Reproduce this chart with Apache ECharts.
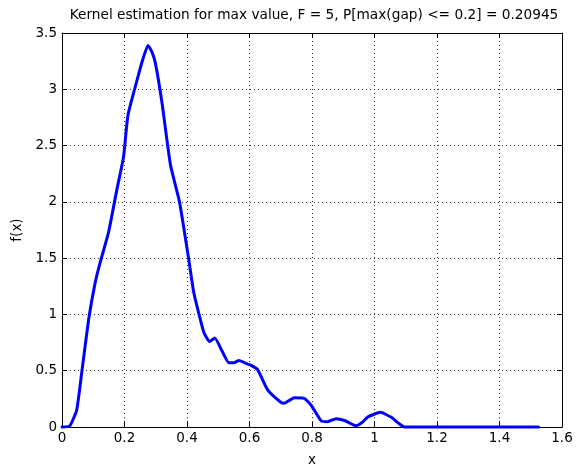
<!DOCTYPE html>
<html>
<head>
<meta charset="utf-8">
<script src="https://cdn.jsdelivr.net/npm/echarts@6/dist/echarts.min.js"></script>
<style>html,body{margin:0;padding:0;background:#fff}#c{width:579px;height:465px}</style>
</head>
<body>
<div id="c"></div>
<script>
const xs = [0, 0.025, 0.047, 0.063, 0.085, 0.106, 0.122, 0.149, 0.175, 0.197, 0.211, 0.240, 0.258, 0.275, 0.288, 0.299, 0.320, 0.347, 0.376, 0.405, 0.422, 0.454, 0.472, 0.489, 0.513, 0.534, 0.550, 0.566, 0.593, 0.604, 0.626, 0.658, 0.700, 0.711, 0.743, 0.775, 0.797, 0.829, 0.850, 0.877, 0.904, 0.941, 0.960, 0.979, 1.019, 1.054, 1.081, 1.096, 1.2, 1.4, 1.525];
const fx = [0, 0.01, 0.15, 0.48, 0.95, 1.28, 1.46, 1.73, 2.10, 2.40, 2.77, 3.08, 3.26, 3.39, 3.33, 3.23, 2.88, 2.33, 2.0, 1.5, 1.19, 0.84, 0.76, 0.79, 0.67, 0.57, 0.57, 0.59, 0.56, 0.55, 0.51, 0.33, 0.22, 0.21, 0.26, 0.255, 0.195, 0.056, 0.047, 0.074, 0.058, 0.012, 0.04, 0.09, 0.13, 0.086, 0.024, 0, 0, 0, 0];
const titleText = 'Kernel estimation for max value, F = 5, P[max(gap) <= 0.2] = 0.20945';
const xLabel = 'x';
const yLabel = 'f(x)';

const chart = echarts.init(document.getElementById('c'), null, {renderer: 'canvas'});
const font = 'DejaVu Sans, sans-serif';
const gridLine = {show: true, lineStyle: {color: '#333', type: [1, 3], width: 1}};
const axisLine = {show: true, onZero: false, lineStyle: {color: '#000', width: 1}};
const fmt = v => String(Math.round(v * 10) / 10);
chart.setOption({
  animation: false,
  title: {text: titleText, left: 309, top: 3, textAlign: 'center',
    textStyle: {fontFamily: font, fontSize: 13.7, fontWeight: 'normal', color: '#000'}},
  grid: {left: 62, right: 17, top: 33, bottom: 38, containLabel: false, outerBoundsMode: 'none'},
  xAxis: [
    {type: 'value', min: 0, max: 1.6, interval: 0.2, position: 'bottom',
     name: xLabel, nameLocation: 'middle', nameGap: 26,
     nameTextStyle: {fontFamily: font, fontSize: 13.5, color: '#000'},
     axisLine: axisLine, axisTick: {show: true, inside: true, length: 5, lineStyle: {color: '#000'}},
     axisLabel: {fontFamily: font, fontSize: 13.5, color: '#000', margin: 4, formatter: fmt},
     splitLine: gridLine},
    {type: 'value', min: 0, max: 1.6, interval: 0.2, position: 'top',
     axisLine: axisLine, axisTick: {show: true, inside: true, length: 5, lineStyle: {color: '#000'}},
     axisLabel: {show: false}, splitLine: {show: false}}
  ],
  yAxis: [
    {type: 'value', min: 0, max: 3.5, interval: 0.5, position: 'left',
     name: yLabel, nameLocation: 'middle', nameGap: 34, nameRotate: 90,
     nameTextStyle: {fontFamily: font, fontSize: 13.5, color: '#000'},
     axisLine: axisLine, axisTick: {show: true, inside: true, length: 5, lineStyle: {color: '#000'}},
     axisLabel: {fontFamily: font, fontSize: 13.5, color: '#000', margin: 5, formatter: fmt},
     splitLine: gridLine},
    {type: 'value', min: 0, max: 3.5, interval: 0.5, position: 'right',
     axisLine: axisLine, axisTick: {show: true, inside: true, length: 5, lineStyle: {color: '#000'}},
     axisLabel: {show: false}, splitLine: {show: false}}
  ],
  series: [{
    type: 'line', xAxisIndex: 0, yAxisIndex: 0,
    data: xs.map((x, i) => [x, fx[i]]),
    showSymbol: false, smooth: 0.15,
    lineStyle: {color: '#0000ff', width: 3, join: 'round', cap: 'round'},
    clip: false
  }]
});
</script>
</body>
</html>
